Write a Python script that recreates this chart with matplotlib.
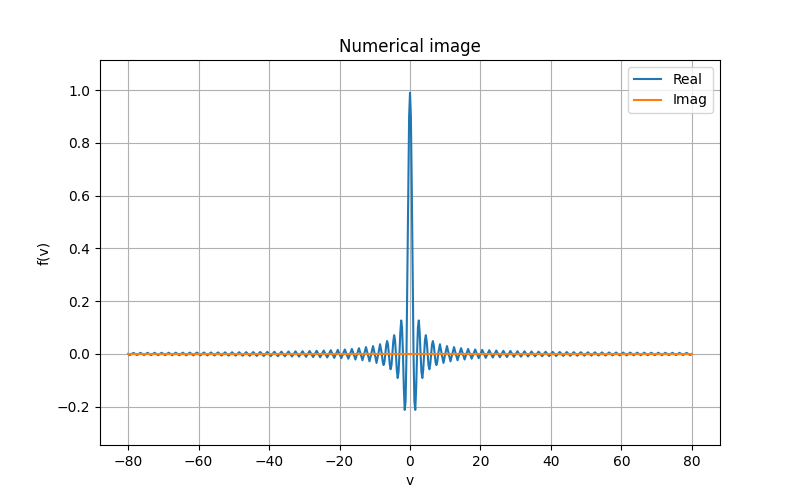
import numpy as np
import matplotlib
matplotlib.use("Agg")
import matplotlib.pyplot as plt

# main lobe and the first side lobes, read at quarter steps (v >= 0, curve is symmetric)
v_center = [0.0, 0.25, 0.5, 0.75, 1.0, 1.25, 1.5, 1.75, 2.0, 2.25, 2.5, 2.75,
            3.0, 3.25, 3.5, 3.75, 4.0, 4.25, 4.5, 4.75, 5.0, 5.25, 5.5, 5.75,
            6.0, 6.25, 6.5, 6.75, 7.0, 7.25, 7.5, 7.75, 8.0]
f_center = [0.990, 0.900, 0.637, 0.300, 0.0, -0.180, -0.212, -0.129, 0.0, 0.100, 0.127, 0.082,
            0.0, -0.069, -0.091, -0.060, 0.0, 0.053, 0.071, 0.047, 0.0, -0.043, -0.058, -0.039,
            0.0, 0.036, 0.049, 0.033, 0.0, -0.031, -0.042, -0.029, 0.0]

# signed side-lobe peaks at v = 8.5, 9.5, ..., 79.5 (zeros in between at whole numbers)
side_peaks = [
    0.037, -0.034, 0.030, -0.028, 0.026,
    -0.024, 0.022, -0.021, 0.019, -0.018, 0.017, -0.016, 0.0155, -0.0148, 0.0141,
    -0.0135, 0.0130, -0.0125, 0.0120, -0.0116, 0.0112, -0.0108, 0.0104, -0.0101, 0.0098,
    -0.0095, 0.0092, -0.0090, 0.0087, -0.0085, 0.0083, -0.0081, 0.0079, -0.0077, 0.0075,
    -0.0073, 0.0072, -0.0070, 0.0068, -0.0067, 0.0066, -0.0064, 0.0063, -0.0062, 0.0061,
    -0.0059, 0.0058, -0.0057, 0.0056, -0.0055, 0.0054, -0.0053, 0.0053, -0.0052, 0.0051,
    -0.0050, 0.0049, -0.0049, 0.0048, -0.0047, 0.0046, -0.0046, 0.0045, -0.0045, 0.0044,
    -0.0043, 0.0043, -0.0042, 0.0042, -0.0041, 0.0041, -0.0040,
]
first_peak_v = 8.5

imag_v = [-80.0, 80.0]
imag_f = [0.0, 0.0]

# right half: center points then peak / zero pairs
v_right = list(v_center)
f_right = list(f_center)
for i, p in enumerate(side_peaks):
    v_right += [first_peak_v + i, first_peak_v + i + 0.5]
    f_right += [p, 0.0]

v_right = np.array(v_right)
f_right = np.array(f_right)
v = np.concatenate([-v_right[:0:-1], v_right])
f = np.concatenate([f_right[:0:-1], f_right])

fig, ax = plt.subplots(figsize=(8, 5), dpi=100)
ax.plot(v, f, label="Real")
ax.plot(imag_v, imag_f, label="Imag")
ax.set_ylim(-0.345, 1.114)
ax.set_title("Numerical image")
ax.set_xlabel("v")
ax.set_ylabel("f(v)")
ax.grid(True)
ax.legend()
fig.savefig("out.png")
